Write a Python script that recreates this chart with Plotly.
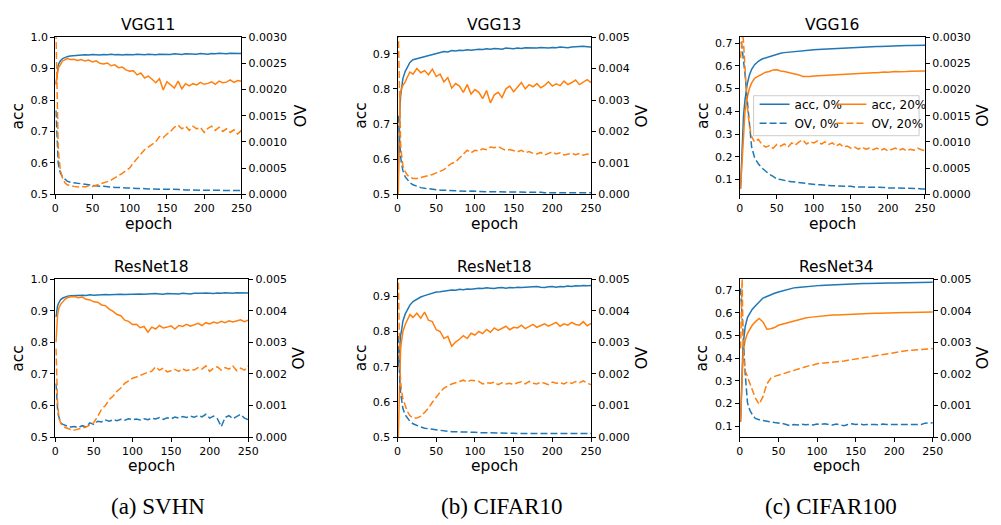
import plotly.graph_objects as go

W, H = 1001, 525
FONT = "DejaVu Sans"
BLUE = "#1f77b4"
ORANGE = "#ff7f0e"
DASH = "7px,3px"
TXT = "#000000"

epochs = [1, 2, 3, 4, 5, 7, 10, 13, 16, 20] + list(range(25, 251, 5))

# ---------------- (a) SVHN, VGG11 ----------------
svhn_vgg11_acc0 = [0.850,0.880,0.900,0.910,0.917,0.925,0.932,0.936,0.938,0.940,
 0.941,0.943,0.942,0.944,0.943,0.945,0.944,0.943,0.945,0.944,0.946,0.944,0.945,0.943,0.945,0.944,
 0.944,0.946,0.945,0.944,0.946,0.945,0.944,0.946,0.945,0.946,0.945,0.947,0.946,0.945,0.947,
 0.946,0.947,0.946,0.948,0.947,0.946,0.948,0.947,0.949,0.948,0.947,0.949,0.948,0.949,0.948]
svhn_vgg11_acc20 = [0.850,0.875,0.890,0.900,0.905,0.915,0.925,0.928,0.932,0.929,
 0.930,0.926,0.929,0.924,0.927,0.921,0.925,0.917,0.915,0.918,0.909,0.912,0.903,0.905,0.896,0.892,
 0.893,0.880,0.886,0.870,0.876,0.866,0.855,0.868,0.832,0.858,0.848,0.838,0.860,0.836,0.852,
 0.845,0.852,0.848,0.856,0.850,0.853,0.858,0.850,0.860,0.855,0.857,0.864,0.856,0.862,0.860]
svhn_vgg11_ov0 = [0.00160,0.00120,0.00080,0.00060,0.00052,0.00040,0.00033,0.00028,0.00025,0.00023,
 0.00022,0.00020,0.00019,0.00018,0.00017,0.00017,0.00016,0.00015,0.00015,0.00014,0.00014,0.00013,0.00013,0.00012,0.00012,0.00012,
 0.00011,0.00011,0.00011,0.00010,0.00010,0.00010,0.00010,0.00010,0.00009,0.00009,0.00009,0.00009,0.00009,0.00009,0.00008,
 0.00008,0.00008,0.00008,0.00008,0.00008,0.00008,0.00007,0.00007,0.00007,0.00007,0.00007,0.00007,0.00007,0.00007,0.00007]
svhn_vgg11_ov20 = [0.00310,0.00220,0.00120,0.00090,0.00070,0.00045,0.00030,0.00022,0.00018,0.00016,
 0.00015,0.00014,0.00015,0.00014,0.00016,0.00015,0.00017,0.00019,0.00021,0.00024,0.00027,0.00031,0.00035,0.00040,0.00045,0.00050,
 0.00060,0.00068,0.00075,0.00085,0.00090,0.00095,0.00100,0.00110,0.00108,0.00115,0.00120,0.00128,0.00132,0.00125,0.00130,
 0.00122,0.00130,0.00125,0.00128,0.00118,0.00126,0.00130,0.00122,0.00128,0.00120,0.00125,0.00118,0.00123,0.00115,0.00122]

# ---------------- (b) CIFAR10, VGG13 ----------------
c10_vgg13_acc0 = [0.550,0.680,0.740,0.780,0.800,0.830,0.850,0.865,0.875,0.883,
 0.886,0.890,0.892,0.895,0.898,0.902,0.903,0.906,0.905,0.909,0.908,0.910,0.909,0.911,0.910,0.912,
 0.913,0.912,0.914,0.913,0.915,0.914,0.913,0.916,0.915,0.914,0.916,0.915,0.917,0.916,0.917,
 0.916,0.918,0.917,0.916,0.918,0.917,0.919,0.918,0.917,0.919,0.920,0.919,0.921,0.920,0.919]
c10_vgg13_acc20 = [0.500,0.720,0.770,0.790,0.800,0.810,0.820,0.835,0.848,0.842,
 0.858,0.846,0.852,0.840,0.856,0.835,0.842,0.820,0.832,0.802,0.815,0.808,0.790,0.812,0.785,0.798,
 0.790,0.772,0.795,0.760,0.783,0.790,0.775,0.800,0.808,0.792,0.805,0.818,0.800,0.812,0.806,
 0.815,0.803,0.810,0.820,0.808,0.814,0.809,0.822,0.812,0.818,0.825,0.812,0.820,0.826,0.818]
c10_vgg13_ov0 = [0.00250,0.00190,0.00150,0.00120,0.00100,0.00075,0.00055,0.00045,0.00037,0.00030,
 0.00025,0.00021,0.00019,0.00017,0.00015,0.00014,0.00013,0.00013,0.00012,0.00011,0.00011,0.00010,0.00010,0.00009,0.00010,0.00009,
 0.00009,0.00009,0.00008,0.00008,0.00008,0.00008,0.00007,0.00007,0.00007,0.00007,0.00007,0.00006,0.00006,0.00006,0.00006,
 0.00006,0.00006,0.00005,0.00005,0.00006,0.00005,0.00005,0.00005,0.00005,0.00005,0.00005,0.00004,0.00005,0.00005,0.00005]
c10_vgg13_ov20 = [0.00520,0.00350,0.00220,0.00160,0.00130,0.00090,0.00072,0.00060,0.00055,0.00050,
 0.00050,0.00053,0.00057,0.00060,0.00063,0.00068,0.00072,0.00078,0.00090,0.00098,0.00103,0.00115,0.00125,0.00140,0.00132,0.00140,
 0.00138,0.00145,0.00142,0.00150,0.00148,0.00152,0.00145,0.00140,0.00142,0.00138,0.00135,0.00140,0.00132,0.00136,0.00130,
 0.00128,0.00133,0.00125,0.00130,0.00135,0.00128,0.00132,0.00125,0.00128,0.00130,0.00126,0.00130,0.00124,0.00128,0.00125]

# ---------------- (c) CIFAR100, VGG16 ----------------
c100_vgg16_acc0 = [0.060,0.150,0.250,0.330,0.380,0.450,0.520,0.560,0.585,0.605,
 0.620,0.630,0.635,0.643,0.648,0.652,0.655,0.658,0.660,0.662,0.664,0.665,0.667,0.668,0.669,0.671,
 0.672,0.673,0.674,0.675,0.676,0.677,0.678,0.679,0.680,0.681,0.681,0.682,0.683,0.683,0.684,
 0.684,0.685,0.685,0.686,0.686,0.687,0.687,0.688,0.688,0.689,0.689,0.690,0.690,0.690,0.690]
c100_vgg16_acc20 = [0.060,0.120,0.200,0.270,0.320,0.400,0.460,0.500,0.525,0.545,
 0.555,0.565,0.572,0.575,0.582,0.583,0.577,0.575,0.572,0.568,0.565,0.560,0.553,0.552,0.553,0.555,
 0.556,0.557,0.558,0.560,0.562,0.561,0.563,0.564,0.565,0.566,0.566,0.567,0.568,0.568,0.569,
 0.570,0.570,0.572,0.573,0.572,0.574,0.575,0.574,0.576,0.575,0.576,0.577,0.576,0.577,0.577]
c100_vgg16_ov0 = [0.00290,0.00290,0.00280,0.00270,0.00260,0.00230,0.00180,0.00130,0.00090,0.00070,
 0.00058,0.00050,0.00044,0.00038,0.00034,0.00029,0.00028,0.00026,0.00025,0.00024,0.00023,0.00022,0.00021,0.00020,0.00019,0.00018,
 0.00018,0.00018,0.00017,0.00017,0.00016,0.00016,0.00016,0.00015,0.00015,0.00015,0.00014,0.00014,0.00014,0.00014,0.00013,
 0.00013,0.00013,0.00013,0.00013,0.00012,0.00012,0.00012,0.00012,0.00011,0.00011,0.00011,0.00011,0.00011,0.00010,0.00010]
c100_vgg16_ov20 = [0.00260,0.00290,0.00310,0.00310,0.00290,0.00240,0.00170,0.00130,0.00110,0.00100,
 0.00105,0.00095,0.00090,0.00093,0.00088,0.00095,0.00092,0.00096,0.00090,0.00098,0.00094,0.00100,0.00104,0.00096,0.00100,0.00098,
 0.00102,0.00096,0.00100,0.00095,0.00098,0.00092,0.00096,0.00090,0.00092,0.00088,0.00090,0.00086,0.00090,0.00086,0.00088,
 0.00085,0.00088,0.00084,0.00087,0.00083,0.00086,0.00088,0.00084,0.00087,0.00083,0.00086,0.00084,0.00088,0.00085,0.00083]

# ---------------- (a) SVHN, ResNet18 ----------------
svhn_r18_acc0 = [0.880,0.905,0.915,0.922,0.928,0.935,0.940,0.944,0.946,0.947,
 0.948,0.947,0.949,0.948,0.950,0.949,0.950,0.949,0.951,0.950,0.951,0.950,0.952,0.951,0.952,0.953,
 0.952,0.953,0.952,0.953,0.952,0.954,0.953,0.952,0.954,0.953,0.954,0.953,0.955,0.954,0.953,
 0.955,0.954,0.955,0.956,0.955,0.954,0.956,0.955,0.957,0.956,0.955,0.957,0.956,0.957,0.956]
svhn_r18_acc20 = [0.800,0.860,0.885,0.900,0.910,0.920,0.930,0.937,0.941,0.944,
 0.945,0.941,0.943,0.936,0.934,0.928,0.927,0.918,0.916,0.905,0.898,0.888,0.884,0.870,0.866,0.856,
 0.857,0.846,0.850,0.832,0.848,0.842,0.853,0.845,0.848,0.852,0.842,0.853,0.850,0.857,0.851,
 0.856,0.860,0.853,0.862,0.858,0.864,0.860,0.866,0.862,0.868,0.864,0.867,0.871,0.865,0.870]
svhn_r18_ov0 = [0.00170,0.00120,0.00090,0.00070,0.00060,0.00045,0.00040,0.00036,0.00034,0.00032,
 0.00033,0.00030,0.00036,0.00032,0.00045,0.00040,0.00050,0.00048,0.00054,0.00050,0.00055,0.00052,0.00056,0.00053,0.00058,0.00055,
 0.00057,0.00054,0.00058,0.00055,0.00060,0.00057,0.00062,0.00056,0.00061,0.00058,0.00063,0.00060,0.00065,0.00062,0.00066,
 0.00063,0.00068,0.00064,0.00072,0.00060,0.00066,0.00058,0.00033,0.00062,0.00068,0.00058,0.00065,0.00072,0.00060,0.00055]
svhn_r18_ov20 = [0.00280,0.00160,0.00110,0.00080,0.00060,0.00045,0.00035,0.00030,0.00027,0.00024,
 0.00022,0.00025,0.00028,0.00032,0.00038,0.00046,0.00065,0.00088,0.00100,0.00119,0.00130,0.00145,0.00155,0.00170,0.00178,0.00186,
 0.00190,0.00196,0.00200,0.00205,0.00208,0.00222,0.00212,0.00218,0.00206,0.00210,0.00214,0.00208,0.00216,0.00210,0.00214,
 0.00212,0.00220,0.00215,0.00225,0.00208,0.00218,0.00222,0.00212,0.00220,0.00215,0.00225,0.00210,0.00218,0.00212,0.00225]

# ---------------- (b) CIFAR10, ResNet18 ----------------
c10_r18_acc0 = [0.700,0.740,0.770,0.790,0.800,0.830,0.850,0.865,0.875,0.885,
 0.892,0.898,0.902,0.906,0.909,0.912,0.913,0.915,0.916,0.918,0.917,0.920,0.919,0.921,0.920,0.922,
 0.923,0.922,0.924,0.923,0.922,0.924,0.925,0.923,0.925,0.924,0.926,0.925,0.926,0.925,0.927,
 0.928,0.926,0.925,0.927,0.928,0.926,0.928,0.927,0.929,0.928,0.930,0.929,0.931,0.930,0.931]
c10_r18_acc20 = [0.500,0.620,0.700,0.750,0.770,0.800,0.820,0.835,0.848,0.840,
 0.852,0.838,0.855,0.832,0.828,0.805,0.800,0.780,0.786,0.758,0.770,0.778,0.788,0.780,0.795,0.790,
 0.800,0.794,0.806,0.798,0.810,0.803,0.808,0.815,0.805,0.812,0.810,0.818,0.808,0.815,0.820,
 0.812,0.818,0.822,0.815,0.820,0.826,0.815,0.822,0.818,0.826,0.820,0.818,0.828,0.816,0.823]
c10_r18_ov0 = [0.00320,0.00220,0.00170,0.00140,0.00120,0.00090,0.00070,0.00058,0.00050,0.00042,
 0.00036,0.00032,0.00028,0.00026,0.00024,0.00022,0.00020,0.00019,0.00018,0.00017,0.00017,0.00016,0.00016,0.00015,0.00015,0.00015,
 0.00014,0.00014,0.00014,0.00013,0.00013,0.00013,0.00012,0.00012,0.00012,0.00012,0.00011,0.00012,0.00011,0.00011,0.00011,
 0.00011,0.00011,0.00010,0.00011,0.00010,0.00010,0.00011,0.00010,0.00010,0.00010,0.00011,0.00010,0.00011,0.00010,0.00011]
c10_r18_ov20 = [0.00520,0.00320,0.00220,0.00180,0.00150,0.00120,0.00100,0.00080,0.00068,0.00060,
 0.00060,0.00066,0.00078,0.00092,0.00110,0.00128,0.00142,0.00155,0.00162,0.00168,0.00172,0.00176,0.00180,0.00174,0.00180,0.00178,
 0.00176,0.00168,0.00172,0.00170,0.00174,0.00166,0.00172,0.00168,0.00170,0.00166,0.00172,0.00175,0.00168,0.00176,0.00170,
 0.00168,0.00174,0.00170,0.00166,0.00174,0.00170,0.00172,0.00168,0.00175,0.00170,0.00176,0.00172,0.00178,0.00170,0.00166]

# ---------------- (c) CIFAR100, ResNet34 ----------------
c100_r34_acc0 = [0.120,0.250,0.360,0.440,0.480,0.540,0.580,0.600,0.615,0.630,
 0.650,0.665,0.672,0.680,0.686,0.692,0.697,0.702,0.706,0.710,0.712,0.714,0.716,0.718,0.719,0.720,
 0.721,0.722,0.723,0.724,0.725,0.725,0.726,0.727,0.727,0.728,0.728,0.729,0.729,0.730,0.730,
 0.730,0.731,0.731,0.732,0.732,0.732,0.733,0.733,0.733,0.734,0.734,0.734,0.735,0.735,0.735]
c100_r34_acc20 = [0.120,0.250,0.340,0.400,0.440,0.480,0.510,0.530,0.545,0.560,
 0.575,0.560,0.528,0.530,0.535,0.545,0.550,0.555,0.560,0.565,0.570,0.573,0.577,0.580,0.582,0.585,
 0.586,0.588,0.589,0.590,0.591,0.592,0.593,0.594,0.595,0.596,0.596,0.597,0.597,0.597,0.598,
 0.598,0.599,0.599,0.600,0.600,0.601,0.601,0.602,0.602,0.602,0.603,0.603,0.603,0.604,0.604]
c100_r34_ov0 = [0.00470,0.00420,0.00370,0.00330,0.00280,0.00200,0.00108,0.00085,0.00072,0.00059,
 0.00055,0.00052,0.00050,0.00048,0.00046,0.00045,0.00043,0.00040,0.00036,0.00040,0.00038,0.00041,0.00039,0.00040,0.00038,0.00041,
 0.00040,0.00042,0.00040,0.00038,0.00041,0.00039,0.00036,0.00040,0.00042,0.00040,0.00041,0.00039,0.00040,0.00041,0.00040,
 0.00039,0.00041,0.00040,0.00040,0.00039,0.00041,0.00040,0.00039,0.00041,0.00040,0.00041,0.00040,0.00044,0.00045,0.00045]
c100_r34_ov20 = [0.00280,0.00450,0.00500,0.00350,0.00250,0.00210,0.00190,0.00170,0.00150,0.00124,
 0.00104,0.00128,0.00168,0.00186,0.00192,0.00196,0.00200,0.00204,0.00208,0.00212,0.00216,0.00220,0.00222,0.00226,0.00228,0.00232,
 0.00233,0.00234,0.00236,0.00238,0.00238,0.00240,0.00241,0.00243,0.00245,0.00247,0.00250,0.00252,0.00255,0.00257,0.00258,
 0.00260,0.00262,0.00264,0.00266,0.00268,0.00270,0.00272,0.00273,0.00274,0.00275,0.00276,0.00277,0.00278,0.00279,0.00280]

titles = ["VGG11", "VGG13", "VGG16", "ResNet18", "ResNet18", "ResNet34"]
captions = ["(a) SVHN", "(b) CIFAR10", "(c) CIFAR100"]
x_ticks = [0, 50, 100, 150, 200, 250]
acc_ticks_a = [0.5, 0.6, 0.7, 0.8, 0.9, 1.0]
acc_ticks_b = [0.5, 0.6, 0.7, 0.8, 0.9]
acc_ticks_c = [0.1, 0.2, 0.3, 0.4, 0.5, 0.6, 0.7]
ov_ticks_3 = [0, 0.0005, 0.0010, 0.0015, 0.0020, 0.0025, 0.0030]
ov_ticks_5 = [0, 0.001, 0.002, 0.003, 0.004, 0.005]

panels = [
    dict(acc0=svhn_vgg11_acc0, acc20=svhn_vgg11_acc20, ov0=svhn_vgg11_ov0, ov20=svhn_vgg11_ov20,
         acc_range=[0.5, 1.0], acc_ticks=acc_ticks_a, ov_range=[0, 0.003], ov_ticks=ov_ticks_3, ov_fmt=".4f"),
    dict(acc0=c10_vgg13_acc0, acc20=c10_vgg13_acc20, ov0=c10_vgg13_ov0, ov20=c10_vgg13_ov20,
         acc_range=[0.5, 0.947], acc_ticks=acc_ticks_b, ov_range=[0, 0.005], ov_ticks=ov_ticks_5, ov_fmt=".3f"),
    dict(acc0=c100_vgg16_acc0, acc20=c100_vgg16_acc20, ov0=c100_vgg16_ov0, ov20=c100_vgg16_ov20,
         acc_range=[0.0356, 0.7258], acc_ticks=acc_ticks_c, ov_range=[0, 0.003], ov_ticks=ov_ticks_3, ov_fmt=".4f"),
    dict(acc0=svhn_r18_acc0, acc20=svhn_r18_acc20, ov0=svhn_r18_ov0, ov20=svhn_r18_ov20,
         acc_range=[0.5, 1.0], acc_ticks=acc_ticks_a, ov_range=[0, 0.005], ov_ticks=ov_ticks_5, ov_fmt=".3f"),
    dict(acc0=c10_r18_acc0, acc20=c10_r18_acc20, ov0=c10_r18_ov0, ov20=c10_r18_ov20,
         acc_range=[0.5, 0.949], acc_ticks=acc_ticks_b, ov_range=[0, 0.005], ov_ticks=ov_ticks_5, ov_fmt=".3f"),
    dict(acc0=c100_r34_acc0, acc20=c100_r34_acc20, ov0=c100_r34_ov0, ov20=c100_r34_ov20,
         acc_range=[0.0526, 0.7488], acc_ticks=acc_ticks_c, ov_range=[0, 0.005], ov_ticks=ov_ticks_5, ov_fmt=".3f"),
]

# layout geometry in pixels: (left, right, top, bottom) of each plot box
boxes = [(52, 241, 32, 193), (399.5, 596, 32, 193), (747, 935, 32, 193),
         (52, 248, 280, 442), (399.5, 596, 280, 442), (747, 943, 280, 442)]
acc_label_x = [14, 362.5, 709, 14, 362.5, 709]
ov_label_x = [301, 647.5, 994, 300, 648, 994]
title_y = [19, 19, 19, 268, 268, 268]
epoch_y = [224, 224, 224, 472, 472, 472]
caption_x = [156, 506, 840]
caption_y = 513


def px(x):
    return x / W


def py(y):
    return 1 - y / H


fig = go.Figure()
layout = dict(
    width=W, height=H, margin=dict(l=0, r=0, t=0, b=0),
    paper_bgcolor="white", plot_bgcolor="white",
    font=dict(family=FONT, color=TXT, size=11),
    showlegend=True,
)
annotations = []

axis_common = dict(showgrid=False, zeroline=False, showline=True, linecolor="black", linewidth=1,
                   ticks="outside", ticklen=4, tickwidth=1, tickcolor="black",
                   tickfont=dict(family=FONT, size=11, color=TXT))

for i, p in enumerate(panels):
    k = i + 1
    xa = "x" if k == 1 else f"x{k}"
    ya = "y" if k == 1 else f"y{k}"
    yb = f"y{k + 6}"
    leg_on = (i == 2)
    fig.add_trace(go.Scatter(x=epochs, y=p["acc0"], xaxis=xa, yaxis=ya, mode="lines",
                             line=dict(color=BLUE, width=1.5), name="acc, 0%",
                             showlegend=leg_on, legend="legend"))
    fig.add_trace(go.Scatter(x=epochs, y=p["acc20"], xaxis=xa, yaxis=ya, mode="lines",
                             line=dict(color=ORANGE, width=1.5), name="acc, 20%",
                             showlegend=leg_on, legend="legend2"))
    fig.add_trace(go.Scatter(x=epochs, y=p["ov0"], xaxis=xa, yaxis=yb, mode="lines",
                             line=dict(color=BLUE, width=1.5, dash=DASH), name="OV, 0%",
                             showlegend=leg_on, legend="legend"))
    fig.add_trace(go.Scatter(x=epochs, y=p["ov20"], xaxis=xa, yaxis=yb, mode="lines",
                             line=dict(color=ORANGE, width=1.5, dash=DASH), name="OV, 20%",
                             showlegend=leg_on, legend="legend2"))

    l, r, t, b = boxes[i]
    xkey = "xaxis" if k == 1 else f"xaxis{k}"
    ykey = "yaxis" if k == 1 else f"yaxis{k}"
    ykey2 = f"yaxis{k + 6}"
    layout[xkey] = dict(axis_common, domain=[px(l), px(r)], range=[0, 250], anchor=ya,
                        tickvals=x_ticks, mirror=True)
    layout[ykey] = dict(axis_common, domain=[py(b), py(t)], range=p["acc_range"], anchor=xa,
                        tickvals=p["acc_ticks"], tickformat=".1f", mirror=False)
    layout[ykey2] = dict(axis_common, overlaying=ya, side="right", anchor=xa,
                         range=p["ov_range"], tickvals=p["ov_ticks"], tickformat=p["ov_fmt"])

    cx = (l + r) / 2
    cy = (t + b) / 2
    annotations.append(dict(text=titles[i], x=px(cx), y=py(title_y[i]), xref="paper", yref="paper",
                            xanchor="center", yanchor="middle", showarrow=False,
                            font=dict(family=FONT, size=15.5, color=TXT)))
    annotations.append(dict(text="epoch", x=px(cx), y=py(epoch_y[i]), xref="paper", yref="paper",
                            xanchor="center", yanchor="middle", showarrow=False,
                            font=dict(family=FONT, size=15.5, color=TXT)))
    annotations.append(dict(text="acc", x=px(acc_label_x[i]), y=py(cy), xref="paper", yref="paper",
                            xanchor="center", yanchor="middle", showarrow=False, textangle=-90,
                            font=dict(family=FONT, size=15.5, color=TXT)))
    annotations.append(dict(text="OV", x=px(ov_label_x[i]), y=py(cy), xref="paper", yref="paper",
                            xanchor="center", yanchor="middle", showarrow=False, textangle=-90,
                            font=dict(family=FONT, size=15.5, color=TXT)))

for j, c in enumerate(captions):
    annotations.append(dict(text=c, x=px(caption_x[j]), y=py(caption_y), xref="paper", yref="paper",
                            xanchor="center", yanchor="middle", showarrow=False,
                            font=dict(family="Liberation Serif", size=23, color=TXT)))

layout["annotations"] = annotations

legend_common = dict(xanchor="left", yanchor="top", bgcolor="rgba(0,0,0,0)", borderwidth=0,
                     font=dict(family=FONT, size=12, color=TXT), tracegroupgap=0,
                     orientation="v", traceorder="normal")
layout["legend"] = dict(legend_common, x=px(762), y=py(86))
layout["legend2"] = dict(legend_common, x=px(840), y=py(86))

# legend frame
layout["shapes"] = [dict(type="rect", xref="paper", yref="paper",
                         x0=px(761), x1=px(929), y0=py(133), y1=py(92),
                         fillcolor="rgba(255,255,255,0.85)", line=dict(color="#cccccc", width=1),
                         layer="above")]

fig.update_layout(**layout)
fig.write_html("out.html")
